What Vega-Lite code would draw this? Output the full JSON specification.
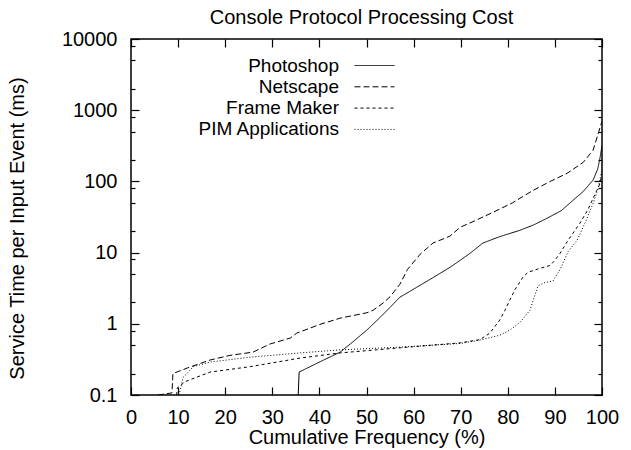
{
  "$schema": "https://vega.github.io/schema/vega-lite/v6.json",
  "width": 471,
  "height": 356,
  "autosize": "none",
  "padding": {"left": 131, "top": 39, "right": 29, "bottom": 55},
  "title": {"text": "Console Protocol Processing Cost", "fontSize": 20, "fontWeight": "normal", "font": "Liberation Sans", "color": "black", "offset": 1, "anchor": "middle", "dx": -5},
  "config": {
    "font": "Liberation Sans",
    "view": {"stroke": "black", "strokeWidth": 1.5},
    "axis": {"domain": false, "grid": false, "tickColor": "black", "labelColor": "black", "titleColor": "black", "labelFontSize": 20, "titleFontSize": 20, "titleFontWeight": "normal", "labelFont": "Liberation Sans", "titleFont": "Liberation Sans", "tickWidth": 1.2}
  },
  "data": {"values": [
    {"s": "Photoshop", "x": 35.5, "y": 0.1},
    {"s": "Photoshop", "x": 35.7, "y": 0.21},
    {"s": "Photoshop", "x": 40, "y": 0.29},
    {"s": "Photoshop", "x": 44.4, "y": 0.40},
    {"s": "Photoshop", "x": 47, "y": 0.55},
    {"s": "Photoshop", "x": 50.1, "y": 0.82},
    {"s": "Photoshop", "x": 53, "y": 1.25},
    {"s": "Photoshop", "x": 55, "y": 1.7},
    {"s": "Photoshop", "x": 57.1, "y": 2.37},
    {"s": "Photoshop", "x": 58.6, "y": 2.7},
    {"s": "Photoshop", "x": 60.7, "y": 3.27},
    {"s": "Photoshop", "x": 64, "y": 4.4},
    {"s": "Photoshop", "x": 67.7, "y": 6.2},
    {"s": "Photoshop", "x": 69.9, "y": 7.8},
    {"s": "Photoshop", "x": 72, "y": 9.8},
    {"s": "Photoshop", "x": 74.7, "y": 13.6},
    {"s": "Photoshop", "x": 78, "y": 16.5},
    {"s": "Photoshop", "x": 82.6, "y": 20.6},
    {"s": "Photoshop", "x": 85.5, "y": 24.5},
    {"s": "Photoshop", "x": 88.3, "y": 30.3},
    {"s": "Photoshop", "x": 91.4, "y": 39},
    {"s": "Photoshop", "x": 93.8, "y": 54},
    {"s": "Photoshop", "x": 96, "y": 72},
    {"s": "Photoshop", "x": 98.1, "y": 104},
    {"s": "Photoshop", "x": 99.1, "y": 150},
    {"s": "Photoshop", "x": 99.6, "y": 218},
    {"s": "Photoshop", "x": 100, "y": 320},
    {"s": "Netscape", "x": 5.7, "y": 0.1},
    {"s": "Netscape", "x": 8.7, "y": 0.107},
    {"s": "Netscape", "x": 8.9, "y": 0.2},
    {"s": "Netscape", "x": 12, "y": 0.24},
    {"s": "Netscape", "x": 16.8, "y": 0.31},
    {"s": "Netscape", "x": 21, "y": 0.36},
    {"s": "Netscape", "x": 25.9, "y": 0.40},
    {"s": "Netscape", "x": 29.5, "y": 0.52},
    {"s": "Netscape", "x": 33.8, "y": 0.63},
    {"s": "Netscape", "x": 35.2, "y": 0.74},
    {"s": "Netscape", "x": 40.1, "y": 0.98},
    {"s": "Netscape", "x": 44.4, "y": 1.2},
    {"s": "Netscape", "x": 50.1, "y": 1.43},
    {"s": "Netscape", "x": 51.4, "y": 1.55},
    {"s": "Netscape", "x": 53.5, "y": 1.95},
    {"s": "Netscape", "x": 55, "y": 2.4},
    {"s": "Netscape", "x": 57.1, "y": 3.6},
    {"s": "Netscape", "x": 58.7, "y": 5.8},
    {"s": "Netscape", "x": 61.4, "y": 9.5},
    {"s": "Netscape", "x": 64.1, "y": 13.6},
    {"s": "Netscape", "x": 67.7, "y": 17},
    {"s": "Netscape", "x": 69.9, "y": 22.7},
    {"s": "Netscape", "x": 73, "y": 28},
    {"s": "Netscape", "x": 76.9, "y": 36.9},
    {"s": "Netscape", "x": 81, "y": 50},
    {"s": "Netscape", "x": 85.4, "y": 75},
    {"s": "Netscape", "x": 89, "y": 100},
    {"s": "Netscape", "x": 92.6, "y": 130},
    {"s": "Netscape", "x": 96, "y": 185},
    {"s": "Netscape", "x": 98.1, "y": 273},
    {"s": "Netscape", "x": 99.6, "y": 574},
    {"s": "Netscape", "x": 100, "y": 700},
    {"s": "Frame Maker", "x": 9.7, "y": 0.1},
    {"s": "Frame Maker", "x": 9.8, "y": 0.125},
    {"s": "Frame Maker", "x": 11.5, "y": 0.154},
    {"s": "Frame Maker", "x": 16.8, "y": 0.21},
    {"s": "Frame Maker", "x": 25.3, "y": 0.25},
    {"s": "Frame Maker", "x": 35.9, "y": 0.33},
    {"s": "Frame Maker", "x": 44.4, "y": 0.39},
    {"s": "Frame Maker", "x": 57.1, "y": 0.46},
    {"s": "Frame Maker", "x": 69.9, "y": 0.54},
    {"s": "Frame Maker", "x": 74.1, "y": 0.6},
    {"s": "Frame Maker", "x": 76.2, "y": 0.74},
    {"s": "Frame Maker", "x": 78.3, "y": 1.13},
    {"s": "Frame Maker", "x": 79.4, "y": 1.55},
    {"s": "Frame Maker", "x": 80.5, "y": 2.2},
    {"s": "Frame Maker", "x": 81.5, "y": 3.0},
    {"s": "Frame Maker", "x": 83.2, "y": 4.5},
    {"s": "Frame Maker", "x": 84.3, "y": 5.3},
    {"s": "Frame Maker", "x": 86.8, "y": 6.0},
    {"s": "Frame Maker", "x": 89, "y": 6.6},
    {"s": "Frame Maker", "x": 90, "y": 7.8},
    {"s": "Frame Maker", "x": 91.1, "y": 9.8},
    {"s": "Frame Maker", "x": 92.8, "y": 14.9},
    {"s": "Frame Maker", "x": 95.3, "y": 25.8},
    {"s": "Frame Maker", "x": 97, "y": 40},
    {"s": "Frame Maker", "x": 98.9, "y": 75},
    {"s": "Frame Maker", "x": 99.6, "y": 94},
    {"s": "Frame Maker", "x": 100, "y": 130},
    {"s": "PIM Applications", "x": 10.2, "y": 0.1},
    {"s": "PIM Applications", "x": 11.1, "y": 0.18},
    {"s": "PIM Applications", "x": 11.9, "y": 0.2},
    {"s": "PIM Applications", "x": 13.2, "y": 0.25},
    {"s": "PIM Applications", "x": 16.8, "y": 0.29},
    {"s": "PIM Applications", "x": 25.3, "y": 0.34},
    {"s": "PIM Applications", "x": 35.9, "y": 0.39},
    {"s": "PIM Applications", "x": 44.4, "y": 0.43},
    {"s": "PIM Applications", "x": 57.1, "y": 0.47},
    {"s": "PIM Applications", "x": 70, "y": 0.53},
    {"s": "PIM Applications", "x": 74.1, "y": 0.59},
    {"s": "PIM Applications", "x": 76.2, "y": 0.64},
    {"s": "PIM Applications", "x": 78.3, "y": 0.69},
    {"s": "PIM Applications", "x": 80.5, "y": 0.82},
    {"s": "PIM Applications", "x": 82.6, "y": 1.05},
    {"s": "PIM Applications", "x": 84.7, "y": 1.55},
    {"s": "PIM Applications", "x": 86.4, "y": 3.4},
    {"s": "PIM Applications", "x": 87.9, "y": 3.8},
    {"s": "PIM Applications", "x": 89.6, "y": 4.0},
    {"s": "PIM Applications", "x": 91.1, "y": 5.8},
    {"s": "PIM Applications", "x": 92.8, "y": 10.3},
    {"s": "PIM Applications", "x": 94.7, "y": 14.9},
    {"s": "PIM Applications", "x": 96.5, "y": 27},
    {"s": "PIM Applications", "x": 98.1, "y": 49},
    {"s": "PIM Applications", "x": 99.2, "y": 80},
    {"s": "PIM Applications", "x": 100, "y": 150}
  ]},
  "layer": [
    {
      "mark": {"type": "line", "color": "black", "strokeWidth": 1, "clip": true},
      "encoding": {
        "x": {"field": "x", "type": "quantitative", "scale": {"domain": [0, 100], "nice": false, "zero": false},
          "axis": {"orient": "bottom", "values": [0, 10, 20, 30, 40, 50, 60, 70, 80, 90, 100], "tickSize": -8, "labelPadding": 20, "labelFlush": false, "labelOverlap": false, "labelBound": false, "title": "Cumulative Frequency (%)", "titleY": 32, "titleBaseline": "top"}},
        "y": {"field": "y", "type": "quantitative", "scale": {"type": "log", "domain": [0.1, 10000], "nice": false},
          "axis": {"orient": "left", "values": [0.1, 1, 10, 100, 1000, 10000], "tickSize": -8, "labelPadding": 22, "labelFlush": false, "labelOverlap": false, "labelExpr": "'' + datum.value", "title": "Service Time per Input Event (ms)", "titleX": -104, "titleY": 189}},
        "strokeDash": {"field": "s", "type": "nominal",
          "scale": {"domain": ["Photoshop", "Netscape", "Frame Maker", "PIM Applications"], "range": [[1, 0], [6, 3], [3, 3], [1, 2]]},
          "legend": {"title": null, "orient": "none", "legendX": 234, "legendY": 17, "symbolType": "M-4,0H4", "symbolSize": 100, "symbolStrokeWidth": 1, "symbolStrokeColor": "black", "labelFontSize": 19, "labelFont": "Liberation Sans", "labelColor": "black", "labelAlign": "right", "labelOffset": -45, "labelLimit": 400, "rowPadding": 1.3, "padding": 0}}
      }
    },
    {
      "mark": {"type": "point", "opacity": 0},
      "encoding": {
        "x": {"field": "x", "type": "quantitative", "axis": {"orient": "top", "values": [0, 10, 20, 30, 40, 50, 60, 70, 80, 90, 100], "tickSize": -8, "labels": false, "title": null}},
        "y": {"field": "y", "type": "quantitative", "axis": {"orient": "right", "values": [0.1, 1, 10, 100, 1000, 10000], "tickSize": -8, "labels": false, "title": null}}
      }
    },
    {
      "mark": {"type": "point", "opacity": 0},
      "encoding": {
        "x": {"field": "x", "type": "quantitative", "axis": null},
        "y": {"field": "y", "type": "quantitative", "axis": {"orient": "left", "values": [0.2, 0.5, 0.8, 2, 5, 8, 20, 50, 80, 200, 500, 800, 2000, 5000, 8000], "tickSize": -4, "labels": false, "title": null}}
      }
    },
    {
      "mark": {"type": "point", "opacity": 0},
      "encoding": {
        "x": {"field": "x", "type": "quantitative", "axis": null},
        "y": {"field": "y", "type": "quantitative", "axis": {"orient": "right", "values": [0.2, 0.5, 0.8, 2, 5, 8, 20, 50, 80, 200, 500, 800, 2000, 5000, 8000], "tickSize": -4, "labels": false, "title": null}}
      }
    }
  ],
  "resolve": {"axis": {"x": "independent", "y": "independent"}}
}
